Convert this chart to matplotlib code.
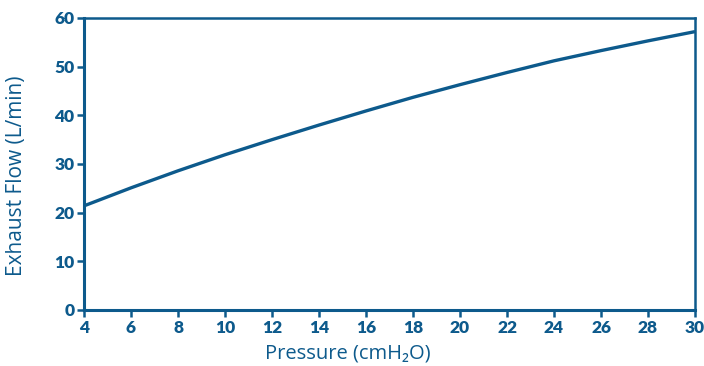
import matplotlib
matplotlib.use("Agg")
import matplotlib.pyplot as plt

pressure = [4, 6, 8, 10, 12, 14, 16, 18, 20, 22, 24, 26, 28, 30]
flow = [21.4, 25.1, 28.6, 31.9, 35.0, 38.0, 40.9, 43.7, 46.3, 48.8, 51.2, 53.3, 55.3, 57.2]
xticks = list(range(4, 31, 2))
yticks = [0, 10, 20, 30, 40, 50, 60]

C = "#0d5a8c"

fig = plt.figure(figsize=(7.04, 3.66), dpi=100)
ax = fig.add_axes([84/704, 56/366, (695-84)/704, (310-18)/366])
ax.plot(pressure, flow, color=C, lw=2.4, solid_capstyle="butt")
ax.set_xlim(4, 30)
ax.set_ylim(0, 60)
ax.set_xticks(xticks)
ax.set_yticks(yticks)
for s in ["left", "bottom"]:
    ax.spines[s].set_linewidth(2.2)
for s in ["top", "right"]:
    ax.spines[s].set_linewidth(1.8)
for s in ax.spines.values():
    s.set_color(C)
ax.tick_params(colors=C, width=1.8, length=5, pad=2)
for lab in ax.get_xticklabels() + ax.get_yticklabels():
    lab.set_fontfamily(["Lato", "DejaVu Sans"])
    lab.set_fontweight("heavy")
    lab.set_fontsize(12.5)
    lab.set_color(C)
ax.set_xlabel("Pressure (cmH₂O)", family=["Open Sans", "DejaVu Sans"], fontsize=14.5, color=C)
ax.xaxis.set_label_coords((348-84)/(695-84), -0.115)
ax.set_ylabel("Exhaust Flow (L/min)", family=["Open Sans", "DejaVu Sans"], fontsize=15, color=C)
ax.yaxis.set_label_coords(-(84-27)/(695-84), (310-176)/(310-18))
fig.savefig("out.png", dpi=100)
